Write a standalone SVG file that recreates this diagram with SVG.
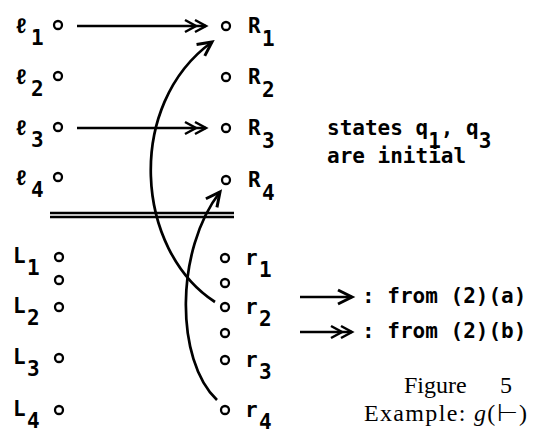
<svg xmlns="http://www.w3.org/2000/svg" width="535" height="435" viewBox="0 0 535 435">
<style>
.t{font-family:"DejaVu Sans Mono","Liberation Mono",monospace;font-weight:bold;font-size:21px;fill:#000}
.c{font-family:"Liberation Serif","Times New Roman",serif;font-size:24px;fill:#000}
.n{fill:#fff;stroke:#000;stroke-width:2.3}
.ln{fill:none;stroke:#000;stroke-width:2.3}
.cv{fill:none;stroke:#000;stroke-width:2.7}
</style>
<defs>
<marker id="h1" markerUnits="userSpaceOnUse" viewBox="-20 -12 24 24" markerWidth="24" markerHeight="24" refX="0" refY="0" orient="auto" overflow="visible">
<path d="M-14,-7 L0,0 L-14,7" fill="none" stroke="#000" stroke-width="3"/>
</marker>
<marker id="h2" markerUnits="userSpaceOnUse" viewBox="-30 -12 34 24" markerWidth="34" markerHeight="24" refX="0" refY="0" orient="auto" overflow="visible">
<path d="M-11,-6 L0,0 L-11,6 M-21,-6 L-10,0 L-21,6" fill="none" stroke="#000" stroke-width="2.5"/>
</marker>
</defs>
<rect width="535" height="435" fill="#fff"/>

<g id="connectors">
<line class="ln" x1="77" y1="26" x2="206" y2="26" marker-end="url(#h2)"/>
<line class="ln" x1="77" y1="128" x2="206" y2="128" marker-end="url(#h2)"/>
<path class="cv" d="M215,302 C135,250 125,105 212,42" marker-end="url(#h1)"/>
<path class="cv" d="M217,400 C175,360 175,250 220,192" marker-end="url(#h1)"/>
</g>

<g id="divider">
<line x1="50" y1="213" x2="234" y2="213" stroke="#000" stroke-width="2.6"/>
<line x1="50" y1="217" x2="234" y2="217" stroke="#000" stroke-width="2.6"/>
</g>

<g id="l1"><text class="t" x="15" y="33">ℓ</text><text class="t" x="31" y="45">1</text><circle class="n" cx="58" cy="25" r="4"/></g>
<g id="l2"><text class="t" x="15" y="84">ℓ</text><text class="t" x="31" y="96">2</text><circle class="n" cx="58" cy="76" r="4"/></g>
<g id="l3"><text class="t" x="15" y="135">ℓ</text><text class="t" x="31" y="147">3</text><circle class="n" cx="58" cy="127" r="4"/></g>
<g id="l4"><text class="t" x="15" y="185">ℓ</text><text class="t" x="31" y="197">4</text><circle class="n" cx="58" cy="177" r="4"/></g>

<g id="R1"><circle class="n" cx="226" cy="26" r="4"/><text class="t" x="248" y="33">R</text><text class="t" x="262" y="46">1</text></g>
<g id="R2"><circle class="n" cx="226" cy="77" r="4"/><text class="t" x="248" y="84">R</text><text class="t" x="262" y="97">2</text></g>
<g id="R3"><circle class="n" cx="226" cy="128" r="4"/><text class="t" x="248" y="135">R</text><text class="t" x="262" y="148">3</text></g>
<g id="R4"><circle class="n" cx="226" cy="180" r="4"/><text class="t" x="248" y="187">R</text><text class="t" x="262" y="200">4</text></g>

<g id="L1"><text class="t" x="13" y="263">L</text><text class="t" x="27" y="275">1</text><circle class="n" cx="59" cy="257" r="4"/></g>
<g id="Lx"><circle class="n" cx="59" cy="280" r="4"/></g>
<g id="L2"><text class="t" x="13" y="313">L</text><text class="t" x="27" y="325">2</text><circle class="n" cx="59" cy="307" r="4"/></g>
<g id="L3"><text class="t" x="13" y="364">L</text><text class="t" x="27" y="376">3</text><circle class="n" cx="59" cy="358" r="4"/></g>
<g id="L4"><text class="t" x="13" y="416">L</text><text class="t" x="27" y="428">4</text><circle class="n" cx="59" cy="410" r="4"/></g>

<g id="r1"><circle class="n" cx="225" cy="258" r="4"/><text class="t" x="245" y="265">r</text><text class="t" x="259" y="277">1</text></g>
<g id="rx1"><circle class="n" cx="225" cy="283" r="4"/></g>
<g id="r2"><circle class="n" cx="225" cy="307" r="4"/><text class="t" x="245" y="314">r</text><text class="t" x="259" y="326">2</text></g>
<g id="rx2"><circle class="n" cx="225" cy="333" r="4"/></g>
<g id="r3"><circle class="n" cx="225" cy="360" r="4"/><text class="t" x="245" y="367">r</text><text class="t" x="259" y="379">3</text></g>
<g id="r4"><circle class="n" cx="225" cy="410" r="4"/><text class="t" x="245" y="417">r</text><text class="t" x="259" y="429">4</text></g>

<g id="note">
<text class="t" x="327" y="135">states q<tspan dy="13">1</tspan><tspan dy="-13">, q</tspan><tspan dy="13">3</tspan></text>
<text class="t" x="327" y="163">are initial</text>
</g>

<g id="legend">
<line class="ln" x1="300" y1="297" x2="352" y2="297" marker-end="url(#h1)"/>
<text class="t" x="362" y="303">: from (2)(a)</text>
<line class="ln" x1="300" y1="332" x2="352" y2="332" marker-end="url(#h2)"/>
<text class="t" x="362" y="338">: from (2)(b)</text>
</g>

<g id="caption">
<text class="c" x="404" y="393">Figure<tspan x="500">5</tspan></text>
<text class="c" x="364" y="421" textLength="163" lengthAdjust="spacing">Example: <tspan font-style="italic">g</tspan>(⊢)</text>
</g>
</svg>
